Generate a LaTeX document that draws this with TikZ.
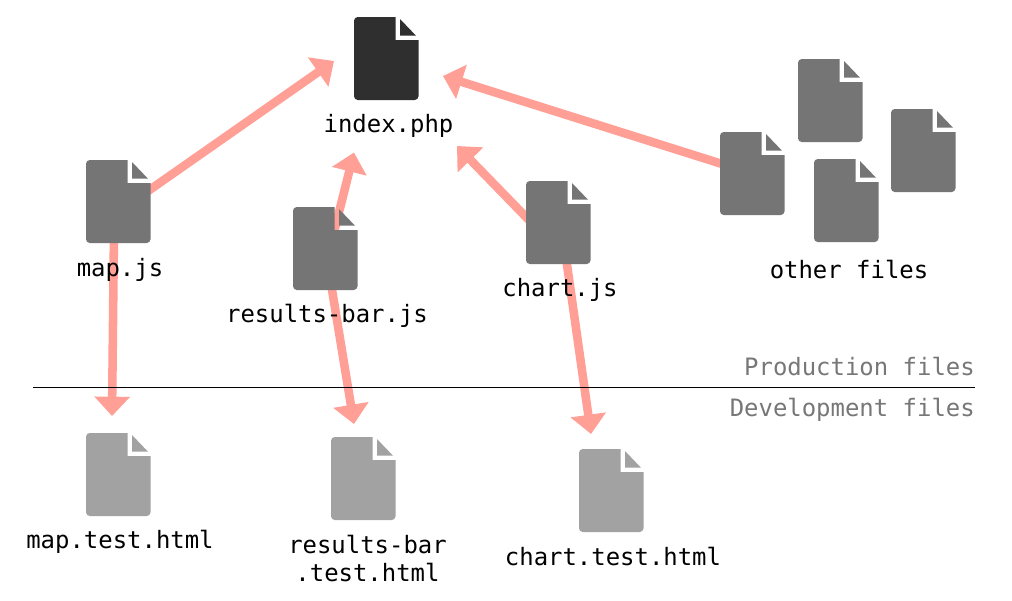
\documentclass[tikz,border=0pt]{standalone}
\usepackage{fontspec}
\setmonofont{DejaVu Sans Mono}
\usetikzlibrary{arrows.meta,backgrounds}
\definecolor{arrowpink}{HTML}{FF9F96}
\definecolor{darkfile}{HTML}{2F2F2F}
\definecolor{midfile}{HTML}{757575}
\definecolor{lightfile}{HTML}{A2A2A2}
\definecolor{notefill}{HTML}{777777}
\tikzset{
  x=0.75pt,y=-0.75pt,
  filebox/.style={minimum width=48.4pt,minimum height=62.25pt,inner sep=0pt,outer sep=0pt},
  filelabel/.style={font=\ttfamily\fontsize{17.95pt}{21.5pt}\selectfont,text=black,inner sep=0pt,align=center},
  regionlabel/.style={font=\ttfamily\fontsize{17.95pt}{21.5pt}\selectfont,text=notefill,inner sep=0pt,anchor=east},
  linkarrow/.style={draw=arrowpink,line width=6.4pt,-{Triangle[length=14.5pt,width=26pt,fill=arrowpink]}},
}
% name, left x, top y, colour
\newcommand{\fileicon}[4]{%
  \node[filebox] (#1) at (#2+32.25,#3+41.5) {};
  \fill[#4] (#2+41.5,#3) -- (#2+41.5,#3+23) -- (#2+64.5,#3+23)
    [rounded corners=2.8pt] -- (#2+64.5,#3+83) -- (#2,#3+83) -- (#2,#3) [sharp corners] -- cycle;
  \fill[#4] (#2+46,#3+2) -- (#2+62,#3+18.7) -- (#2+46,#3+18.7) -- cycle;
}
\begin{document}
\begin{tikzpicture}
\useasboundingbox (0,0) rectangle (1012,600);
\fileicon{index}{354}{17}{darkfile}
\fileicon{mapjs}{86}{160}{midfile}
\fileicon{resultsbar}{293}{207}{midfile}
\fileicon{chartjs}{526}{181}{midfile}
\fileicon{other}{720}{132}{midfile}
\fileicon{otherb}{798}{59}{midfile}
\fileicon{otherc}{814}{159}{midfile}
\fileicon{otherd}{891}{109}{midfile}
\fileicon{maptest}{86}{433}{lightfile}
\fileicon{resultstest}{331}{437}{lightfile}
\fileicon{charttest}{579}{449}{lightfile}

\node[filelabel] (indexlabel) at (388.5,125.5) {index.php};
\node[filelabel] (maplabel) at (120,269.5) {map.js};
\node[filelabel] (resultslabel) at (327,315.5) {results-bar.js};
\node[filelabel] (chartlabel) at (560,289.5) {chart.js};
\node[filelabel] (otherlabel) at (849,269.5) {other files};
\node[filelabel] (maptestlabel) at (120,541.5) {map.test.html};
\node[filelabel] (resultstestlabel) at (367.5,558.5) {results-bar\\.test.html};
\node[filelabel] (charttestlabel) at (613,556.5) {chart.test.html};
\node[regionlabel] (prod) at (975,367) {Production files};
\node[regionlabel] (dev) at (975,409.5) {Development files};

\coordinate (divleft) at (33,387);
\coordinate (divright) at (975,387);
\draw[black,line width=0.75pt] (divleft) -- (divright);

\coordinate (tipa) at (334,61);
\coordinate (tipb) at (354,152.5);
\coordinate (tipc) at (457,146);
\coordinate (tipd) at (443,76);
\coordinate (tipe) at (112,416);
\coordinate (tipf) at (354,424);
\coordinate (tipg) at (591,434);
\coordinate (rbup) at (334.5,230);
\coordinate (mapup) at (118,212);
\coordinate (mapdown) at (114,230);
\coordinate (chartup) at (558,250);
\coordinate (chartdown) at (563.5,240);
\begin{pgfonlayer}{background}
\fill[white] (0,0) rectangle (1012,600);
\draw[linkarrow] (mapup) -- (tipa);
\draw[linkarrow] (rbup) -- (tipb);
\draw[linkarrow] (chartup) -- (tipc);
\draw[linkarrow] (other.center) -- (tipd);
\draw[linkarrow] (mapdown) -- (tipe);
\draw[linkarrow] (resultsbar.center) -- (tipf);
\draw[linkarrow] (chartdown) -- (tipg);
\end{pgfonlayer}
\end{tikzpicture}
\end{document}
